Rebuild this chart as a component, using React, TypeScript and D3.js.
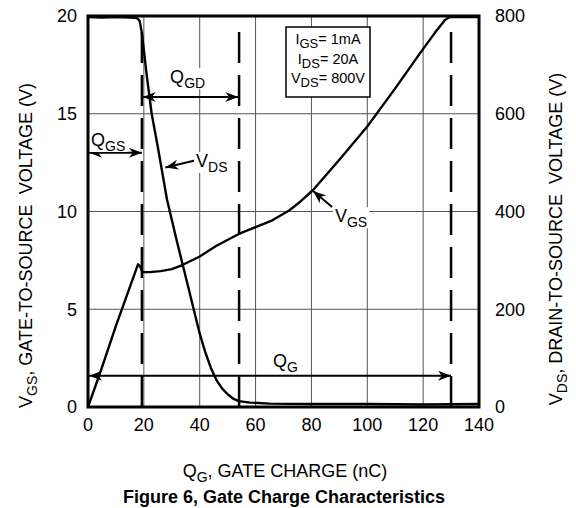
import React, { useEffect, useRef } from "react";
import * as d3 from "d3";

const width = 576;
const height = 508;
const margin = { top: 16, right: 97, bottom: 101, left: 88 };
const font = "'Liberation Sans', Arial, Helvetica, sans-serif";

// gate charge (nC) vs gate-to-source voltage (V)
const vgsCharge = [0, 4, 10, 17.9, 18.6, 19.5, 22, 26, 30, 33.6, 40, 46, 54, 60, 66, 72, 76, 80.6, 90, 100, 110, 118.9, 124, 127.8, 129.5, 140];
const vgsValues = [0, 1.6, 4.15, 7.3, 7.2, 6.9, 6.9, 6.95, 7.05, 7.25, 7.7, 8.25, 8.85, 9.2, 9.55, 10.05, 10.5, 11.1, 12.65, 14.35, 16.3, 18.1, 19.1, 19.8, 19.95, 19.95];

// gate charge (nC) vs drain-to-source voltage (V)
const vdsCharge = [0, 5, 10, 15, 17.5, 18.5, 19.3, 21, 22.8, 25, 28.3, 32, 36, 40, 42, 44, 46, 48, 50, 52, 54, 58, 65, 80, 100, 120, 140];
const vdsValues = [798, 797, 798, 797, 796, 790, 765, 680, 600, 532, 424, 335, 243, 150, 112, 80, 55, 38, 26, 17, 12, 9, 7, 6, 6, 5, 6];

const xTicks = [0, 20, 40, 60, 80, 100, 120, 140];
const leftTicks = [0, 5, 10, 15, 20];
const rightTicks = [0, 200, 400, 600, 800];

// charge boundaries (dashed markers): end of Q_GS, end of Q_GD, total Q_G
const chargeMarks = [19.3, 54.1, 130];

const conditions = [
  ["I", "GS", "= 1mA"],
  ["I", "DS", "= 20A"],
  ["V", "DS", "= 800V"],
];

const x = d3.scaleLinear([0, 140], [margin.left, width - margin.right]);
const yL = d3.scaleLinear([0, 20], [height - margin.bottom, margin.top]);
const yR = d3.scaleLinear([0, 800], [height - margin.bottom, margin.top]);

function arrowHead(tx: number, ty: number, fx: number, fy: number) {
  // barbed head with its tip at (tx,ty), pointing away from (fx,fy)
  const a = Math.atan2(ty - fy, tx - fx);
  const len = 13;
  const w = 5;
  const pts = [
    [tx, ty],
    [tx - len * Math.cos(a) - w * Math.sin(a), ty - len * Math.sin(a) + w * Math.cos(a)],
    [tx - len * 0.7 * Math.cos(a), ty - len * 0.7 * Math.sin(a)],
    [tx - len * Math.cos(a) + w * Math.sin(a), ty - len * Math.sin(a) - w * Math.cos(a)],
  ];
  return "M" + pts.map((p) => p.join(",")).join("L") + "Z";
}

function App() {
  const ref = useRef<SVGSVGElement>(null);

  useEffect(() => {
    const svg = d3.select(ref.current);
    svg.selectAll("*").remove();
    const x0 = margin.left;
    const x1 = width - margin.right;
    const y0 = height - margin.bottom;
    const y1 = margin.top;

    // grid
    const grid = svg.append("g").attr("stroke", "#555").attr("stroke-width", 1);
    xTicks.slice(1, -1).forEach((t) => {
      grid.append("line").attr("x1", x(t)).attr("x2", x(t)).attr("y1", y1).attr("y2", y0);
    });
    leftTicks.slice(1, -1).forEach((t) => {
      grid.append("line").attr("x1", x0).attr("x2", x1).attr("y1", yL(t)).attr("y2", yL(t));
    });

    // tick labels
    const ticks = svg.append("g").attr("font-family", font).attr("font-size", 18).attr("fill", "#000");
    xTicks.forEach((t) => {
      ticks.append("text").attr("x", x(t)).attr("y", 431).attr("text-anchor", "middle").text(t);
    });
    leftTicks.forEach((t) => {
      ticks.append("text").attr("x", 77).attr("y", yL(t)).attr("dy", "0.35em").attr("text-anchor", "end").text(t);
    });
    rightTicks.forEach((t) => {
      ticks.append("text").attr("x", 495).attr("y", yR(t)).attr("dy", "0.35em").text(t);
    });

    // dashed charge markers (pattern starts at the bottom)
    chargeMarks.forEach((q) => {
      svg
        .append("line")
        .attr("x1", x(q))
        .attr("x2", x(q))
        .attr("y1", y0)
        .attr("y2", yL(19.5))
        .attr("stroke", "#000")
        .attr("stroke-width", 2.5)
        .attr("stroke-dasharray", "31,12");
    });

    // curves
    const lineGs = d3.line<number>().x((d, i) => x(vgsCharge[i])).y((d) => yL(d));
    const lineDs = d3.line<number>().x((d, i) => x(vdsCharge[i])).y((d) => yR(d));
    svg.append("path").attr("d", lineGs(vgsValues)).attr("fill", "none").attr("stroke", "#000").attr("stroke-width", 2.4).attr("stroke-linejoin", "round");
    svg.append("path").attr("d", lineDs(vdsValues)).attr("fill", "none").attr("stroke", "#000").attr("stroke-width", 2.4).attr("stroke-linejoin", "round");

    // annotation arrows
    const ann = svg.append("g");
    const arrow = (qa: number, va: number, qb: number, vb: number, both: boolean) => {
      const ax = x(qa), ay = yL(va), bx = x(qb), by = yL(vb);
      ann.append("line").attr("x1", ax).attr("y1", ay).attr("x2", bx).attr("y2", by).attr("stroke", "#000").attr("stroke-width", 2);
      ann.append("path").attr("d", arrowHead(bx, by, ax, ay)).attr("fill", "#000");
      if (both) ann.append("path").attr("d", arrowHead(ax, ay, bx, by)).attr("fill", "#000");
    };
    arrow(0.4, 13.0, chargeMarks[0], 13.0, true);
    arrow(chargeMarks[0] + 0.3, 15.86, chargeMarks[1] - 0.3, 15.86, true);
    arrow(0.4, 1.6, chargeMarks[2], 1.6, true);
    arrow(87.4, 10.23, 80.6, 11.05, false);
    arrow(39, 12.63, 27.7, 12.25, false);

    // labels with subscripts
    const label = (q: number, v: number, main: string, sub: string) => {
      const g = svg.append("g");
      const t = g
        .append("text")
        .attr("x", x(q))
        .attr("y", yL(v))
        .attr("font-family", font)
        .attr("font-size", 18);
      t.append("tspan").text(main);
      t.append("tspan").attr("font-size", 14).attr("dy", 5).text(sub);
      const b = (t.node() as SVGTextElement).getBBox();
      g.insert("rect", "text")
        .attr("x", b.x - 2)
        .attr("y", b.y + 1)
        .attr("width", b.width + 4)
        .attr("height", b.height - 3)
        .attr("fill", "#fff");
    };
    label(1.1, 13.35, "Q", "GS");
    label(29.4, 16.57, "Q", "GD");
    label(38.7, 12.28, "V", "DS");
    label(88.4, 9.46, "V", "GS");
    label(66.2, 2.05, "Q", "G");

    // conditions box
    const box = svg.append("g");
    box.append("rect").attr("x", 286).attr("y", 27).attr("width", 84).attr("height", 70).attr("fill", "#fff").attr("stroke", "#000").attr("stroke-width", 1.5);
    conditions.forEach((c, i) => {
      const t = box
        .append("text")
        .attr("x", 328)
        .attr("y", 44 + i * 19.5)
        .attr("text-anchor", "middle")
        .attr("font-family", font)
        .attr("font-size", 14.5);
      t.append("tspan").text(c[0]);
      t.append("tspan").attr("font-size", 13).attr("dy", 4).text(c[1]);
      t.append("tspan").attr("dy", -4).text(c[2]);
    });

    // frame
    svg
      .append("rect")
      .attr("x", x0)
      .attr("y", y1)
      .attr("width", x1 - x0)
      .attr("height", y0 - y1)
      .attr("fill", "none")
      .attr("stroke", "#000")
      .attr("stroke-width", 3);

    // axis titles
    const titles = svg.append("g").attr("font-family", font).attr("fill", "#000");
    const xt = titles.append("text").attr("x", 285).attr("y", 477).attr("text-anchor", "middle").attr("font-size", 18);
    xt.append("tspan").text("Q");
    xt.append("tspan").attr("font-size", 14).attr("dy", 5).text("G");
    xt.append("tspan").attr("dy", -5).text(", GATE CHARGE (nC)");

    const lt = titles
      .append("text")
      .attr("transform", `translate(32,${(78 + 413) / 2}) rotate(-90)`)
      .attr("text-anchor", "middle")
      .attr("font-size", 18);
    lt.append("tspan").text("V");
    lt.append("tspan").attr("font-size", 14).attr("dy", 5).text("GS");
    lt.append("tspan").attr("dy", -5).text(", GATE-TO-SOURCE\u00a0 VOLTAGE (V)");

    const rt = titles
      .append("text")
      .attr("transform", `translate(562,${(65 + 413) / 2}) rotate(-90)`)
      .attr("text-anchor", "middle")
      .attr("font-size", 18);
    rt.append("tspan").text("V");
    rt.append("tspan").attr("font-size", 14).attr("dy", 5).text("DS");
    rt.append("tspan").attr("dy", -5).text(", DRAIN-TO-SOURCE\u00a0 VOLTAGE (V)");

    titles
      .append("text")
      .attr("x", 284)
      .attr("y", 503)
      .attr("text-anchor", "middle")
      .attr("font-size", 18)
      .attr("font-weight", "bold")
      .text("Figure 6, Gate Charge Characteristics");
  }, []);

  return (
    <svg
      ref={ref}
      width={width}
      height={height}
      style={{ position: "absolute", left: 0, top: 0, background: "#fff" }}
    ></svg>
  );
}

export default App;
